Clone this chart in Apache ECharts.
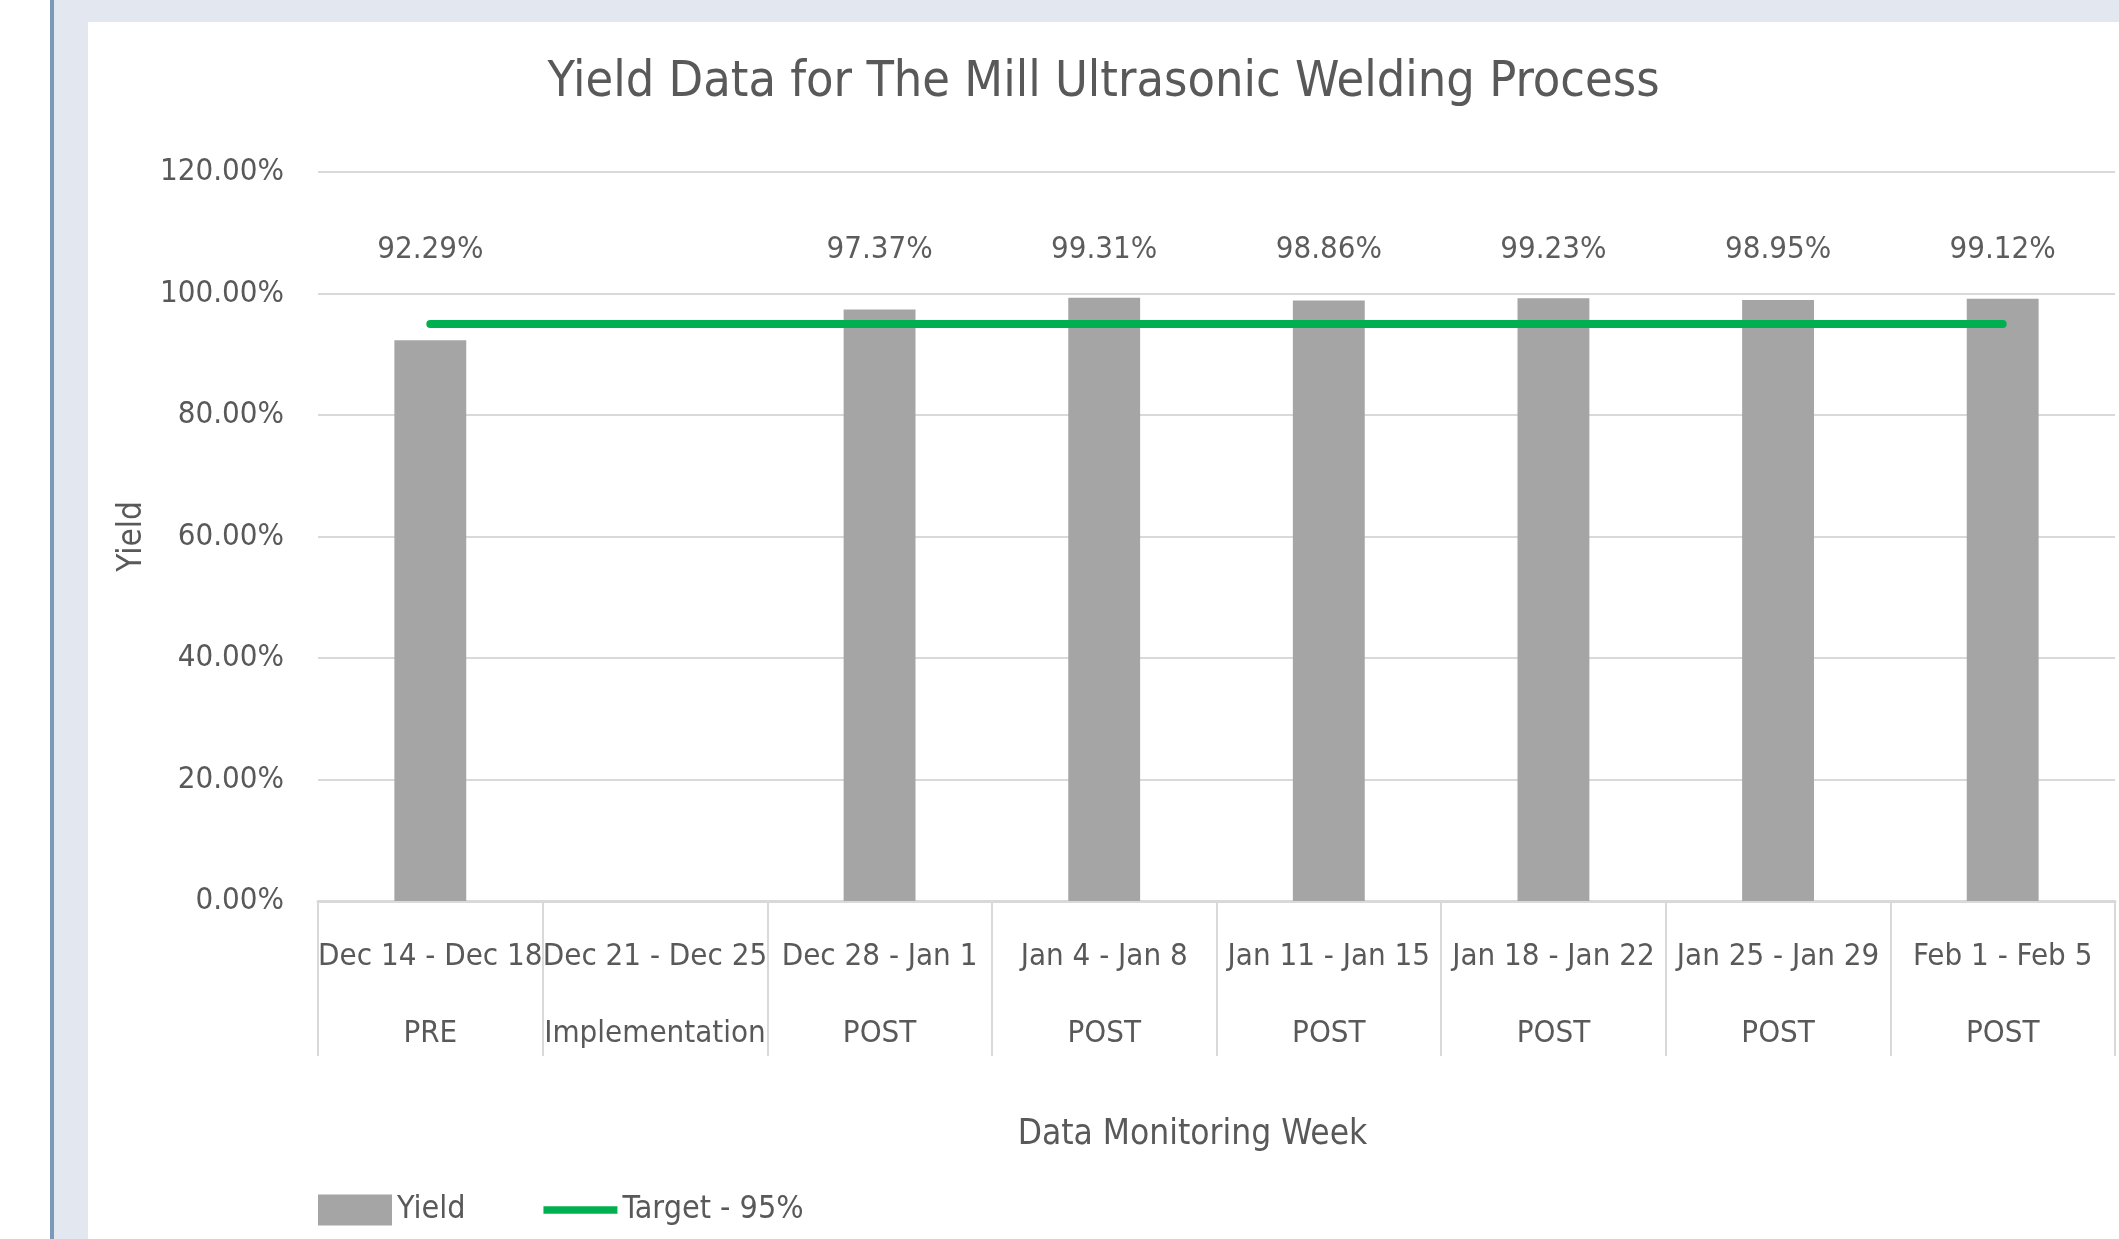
<!DOCTYPE html>
<html>
<head>
<meta charset="utf-8">
<script src="https://cdn.jsdelivr.net/npm/echarts@6/dist/echarts.min.js"></script>
<style>
  html, body { margin: 0; padding: 0; background: #ffffff; }
  #frame { position: absolute; left: 54px; top: 0; width: 2065px; height: 1239px; background: #e3e7ef; }
  #edge { position: absolute; left: 50px; top: 0; width: 4px; height: 1239px; background: #7b98b9; }
  #chart { position: absolute; left: 88px; top: 22px; width: 2031px; height: 1217px; background: #ffffff; }
</style>
</head>
<body>
<div id="edge"></div>
<div id="frame"></div>
<div id="chart"></div>
<script>
const weeks = ["Dec 14 - Dec 18", "Dec 21 - Dec 25", "Dec 28 - Jan 1", "Jan 4 - Jan 8",
    "Jan 11 - Jan 15", "Jan 18 - Jan 22", "Jan 25 - Jan 29", "Feb 1 - Feb 5"];
const phases = ["PRE", "Implementation", "POST", "POST", "POST", "POST", "POST", "POST"];
const yieldPct = [92.29, null, 97.37, 99.31, 98.86, 99.23, 98.95, 99.12];
const targetPct = [95, 95, 95, 95, 95, 95, 95, 95];

// level (in axis units) where Excel put the value labels
const labelLevel = 107.2;

const font = "'Liberation Sans Narrow', 'Arial Narrow', 'DejaVu Sans Condensed', sans-serif";
const categories = weeks.map((w, i) => w + "\n" + phases[i]);

const chart = echarts.init(document.getElementById("chart"));

const option = {
    animation: false,
    textStyle: { fontFamily: font },
    title: {
        text: "Yield Data for The Mill Ultrasonic Welding Process",
        left: "center",
        top: 31,
        textStyle: { fontFamily: font, fontSize: 50, fontWeight: "normal", color: "#595959" },
    },
    grid: { left: 230, right: 4, top: 150, bottom: 338 },
    legend: {
        left: 225,
        top: 1167,
        itemWidth: 74,
        itemHeight: 31,
        itemGap: 78,
        textStyle: { fontFamily: font, fontSize: 32, color: "#595959" },
        data: [
            { name: "Yield", icon: "rect" },
            { name: "Target - 95%", icon: "path://M0,0 L10,0 L10,1 L0,1 Z" },
        ],
    },
    xAxis: {
        type: "category",
        data: categories,
        name: "Data Monitoring Week",
        nameLocation: "middle",
        nameGap: 216,
        nameTextStyle: { fontFamily: font, fontSize: 35, color: "#595959", padding: [0, 48, 0, 0] },
        axisLine: { lineStyle: { color: "#d9d9d9", width: 3 } },
        axisTick: { show: true, length: 155, interval: 0, lineStyle: { color: "#d9d9d9", width: 2 } },
        axisLabel: {
            interval: 0,
            margin: 17,
            fontSize: 31,
            lineHeight: 77,
            color: "#595959",
            fontFamily: font,
        },
    },
    yAxis: {
        type: "value",
        min: 0,
        max: 120,
        interval: 20,
        name: "Yield",
        nameLocation: "middle",
        nameGap: 156,
        nameTextStyle: { fontFamily: font, fontSize: 33, color: "#595959" },
        axisLine: { show: false },
        axisTick: { show: false },
        splitLine: { lineStyle: { color: "#d9d9d9", width: 2 } },
        axisLabel: {
            margin: 34,
            fontSize: 31,
            color: "#595959",
            fontFamily: font,
            formatter: (v) => v.toFixed(2) + "%",
        },
    },
    series: [
        {
            name: "Yield",
            type: "bar",
            data: yieldPct,
            barWidth: "32%",
            itemStyle: { color: "#a5a5a5" },
            z: 2,
        },
        {
            name: "Target - 95%",
            type: "line",
            data: targetPct,
            showSymbol: false,
            symbol: "none",
            itemStyle: { color: "#00b050" },
            lineStyle: { color: "#00b050", width: 8, cap: "round" },
            z: 3,
        },
        {
            name: "labels",
            type: "scatter",
            data: yieldPct.map((v, i) => (v === null ? null : [i, labelLevel, v])),
            symbolSize: 1,
            itemStyle: { color: "rgba(0,0,0,0)" },
            silent: true,
            label: {
                show: true,
                position: "inside",
                fontFamily: font,
                fontSize: 31,
                color: "#333333",
                formatter: (p) => p.value[2].toFixed(2) + "%",
            },
        },
    ],
};

chart.setOption(option);
</script>
</body>
</html>
